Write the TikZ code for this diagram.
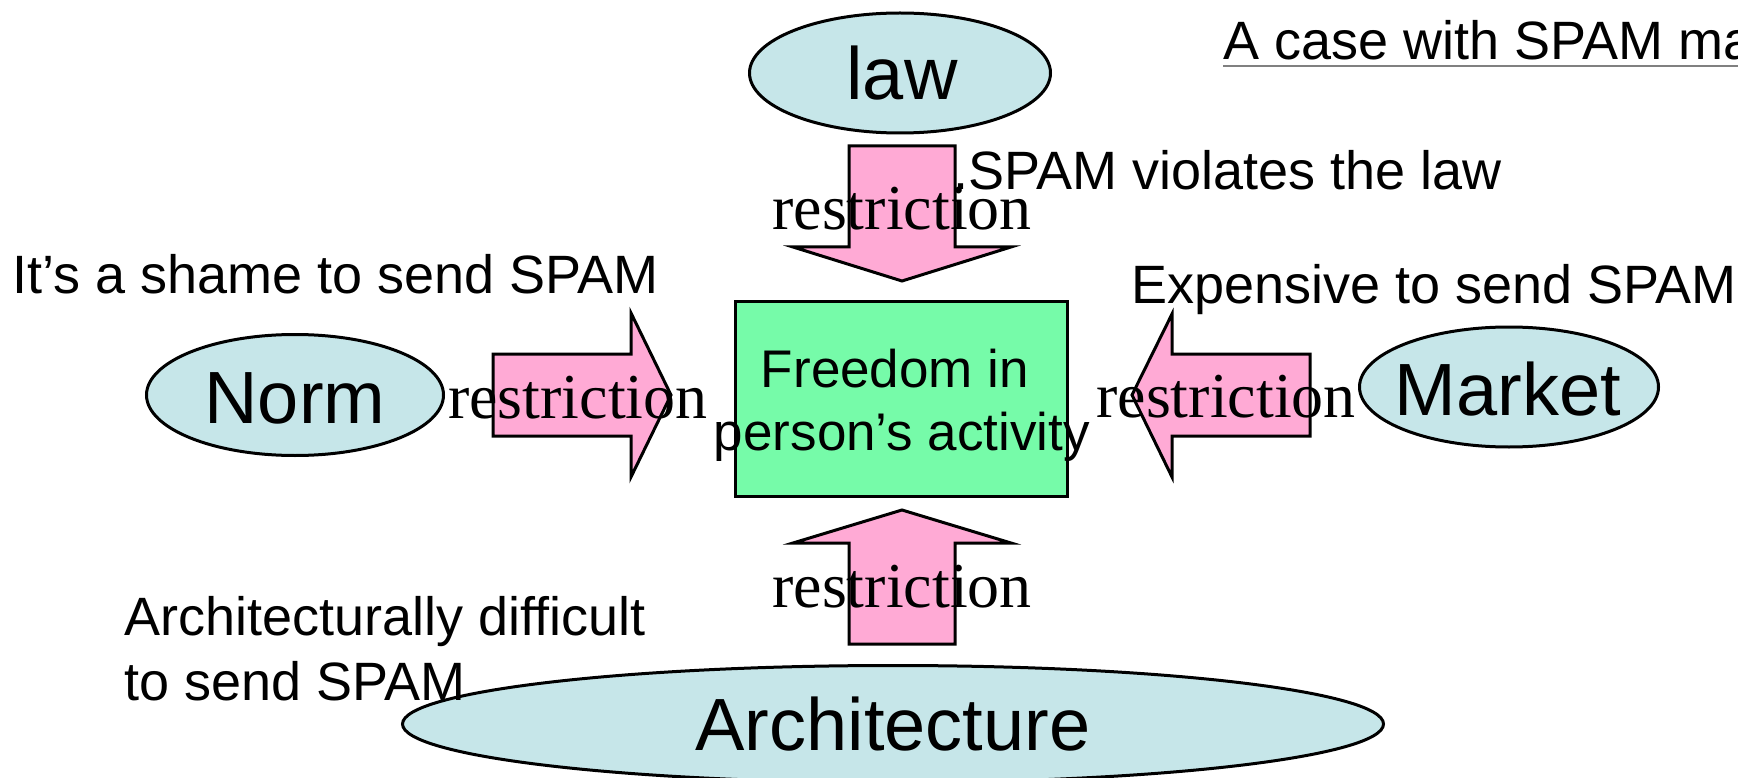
\documentclass[tikz,border=0pt]{standalone}
\usepackage{fontspec}
\setmainfont{Liberation Sans}
\newfontfamily\tms{Liberation Serif}
\usetikzlibrary{shapes.geometric}
\definecolor{ellfill}{RGB}{198,230,233}
\definecolor{pinkfill}{RGB}{255,170,213}
\definecolor{greenfill}{RGB}{118,251,169}
\tikzset{
  ell/.style={ellipse, draw=black, line width=3pt, fill=ellfill, inner sep=0pt},
  bigtxt/.style={anchor=base, inner sep=0pt, font=\fontsize{74}{74}\selectfont},
  blockarrow/.style={draw=black, line width=3pt, fill=pinkfill, line join=miter},
  restr/.style={anchor=base, inner sep=0pt, font=\tms\fontsize{64}{64}\selectfont},
  txt/.style={anchor=base west, inner sep=0pt, font=\fontsize{54}{54}\selectfont},
  ctxt/.style={anchor=base, inner sep=0pt, font=\fontsize{53}{53}\selectfont},
}
\begin{document}
\begin{tikzpicture}[x=1pt,y=-1pt]
\useasboundingbox (0,0) rectangle (1738,778);
\clip (0,0) rectangle (1738,778);

% ellipses
\node[ell, minimum width=301pt, minimum height=120pt] (law) at (900,73) {};
\node[ell, minimum width=297pt, minimum height=121pt] (norm) at (295,395) {};
\node[ell, minimum width=299pt, minimum height=120pt] (market) at (1509,387) {};
\node[ell, minimum width=981pt, minimum height=117pt] (arch) at (893,724) {};

% central box
\node[draw=black, line width=3pt, fill=greenfill, minimum width=332pt, minimum height=195pt, inner sep=0pt] (freedom) at (901.5,399) {};

% block arrows
\draw[blockarrow] (849,146) -- (955,146) -- (955,247) -- (1011,247) -- (902,281) -- (793,247) -- (849,247) -- cycle;
\draw[blockarrow] (849,644) -- (955,644) -- (955,543) -- (1011,543) -- (902,510) -- (793,543) -- (849,543) -- cycle;
\draw[blockarrow] (493,354) -- (631,354) -- (631,313) -- (671,395) -- (631,477) -- (631,436) -- (493,436) -- cycle;
\draw[blockarrow] (1310,354) -- (1172,354) -- (1172,314) -- (1132,395) -- (1172,477) -- (1172,436) -- (1310,436) -- cycle;

% labels in ellipses
\node[bigtxt] (lawtxt) at (902,100) {law};
\node[bigtxt] (normtxt) at (295,423) {Norm};
\node[bigtxt] (markettxt) at (1508,415) {Market};
\node[bigtxt] (archtxt) at (893,750) {Architecture};

% box text
\node[ctxt] (free1) at (895,387) {Freedom in};
\node[ctxt] (free2) at (902,450) {person’s activity};

% restriction labels
\node[restr] (rlaw) at (902,230) {restriction};
\node[restr] (rnorm) at (578,418) {restriction};
\node[restr] (rmarket) at (1226,417) {restriction};
\node[restr] (rarch) at (902,607) {restriction};

% annotations
\node[txt] (spamlaw) at (953,190) {.SPAM violates the law};
\node[txt] (shame) at (12,293) {It’s a shame to send SPAM};
\node[txt] (expensive) at (1131,303) {Expensive to send SPAM};
\node[txt] (archa) at (124,635) {Architecturally difficult};
\node[txt] (archb) at (124,700) {to send SPAM};

% title
\node[txt] (title) at (1223,60) {A case with SPAM mail};
\draw[gray, line width=2pt] ([yshift=-6pt]title.base west) -- ([yshift=-6pt]title.base east);
\end{tikzpicture}
\end{document}
